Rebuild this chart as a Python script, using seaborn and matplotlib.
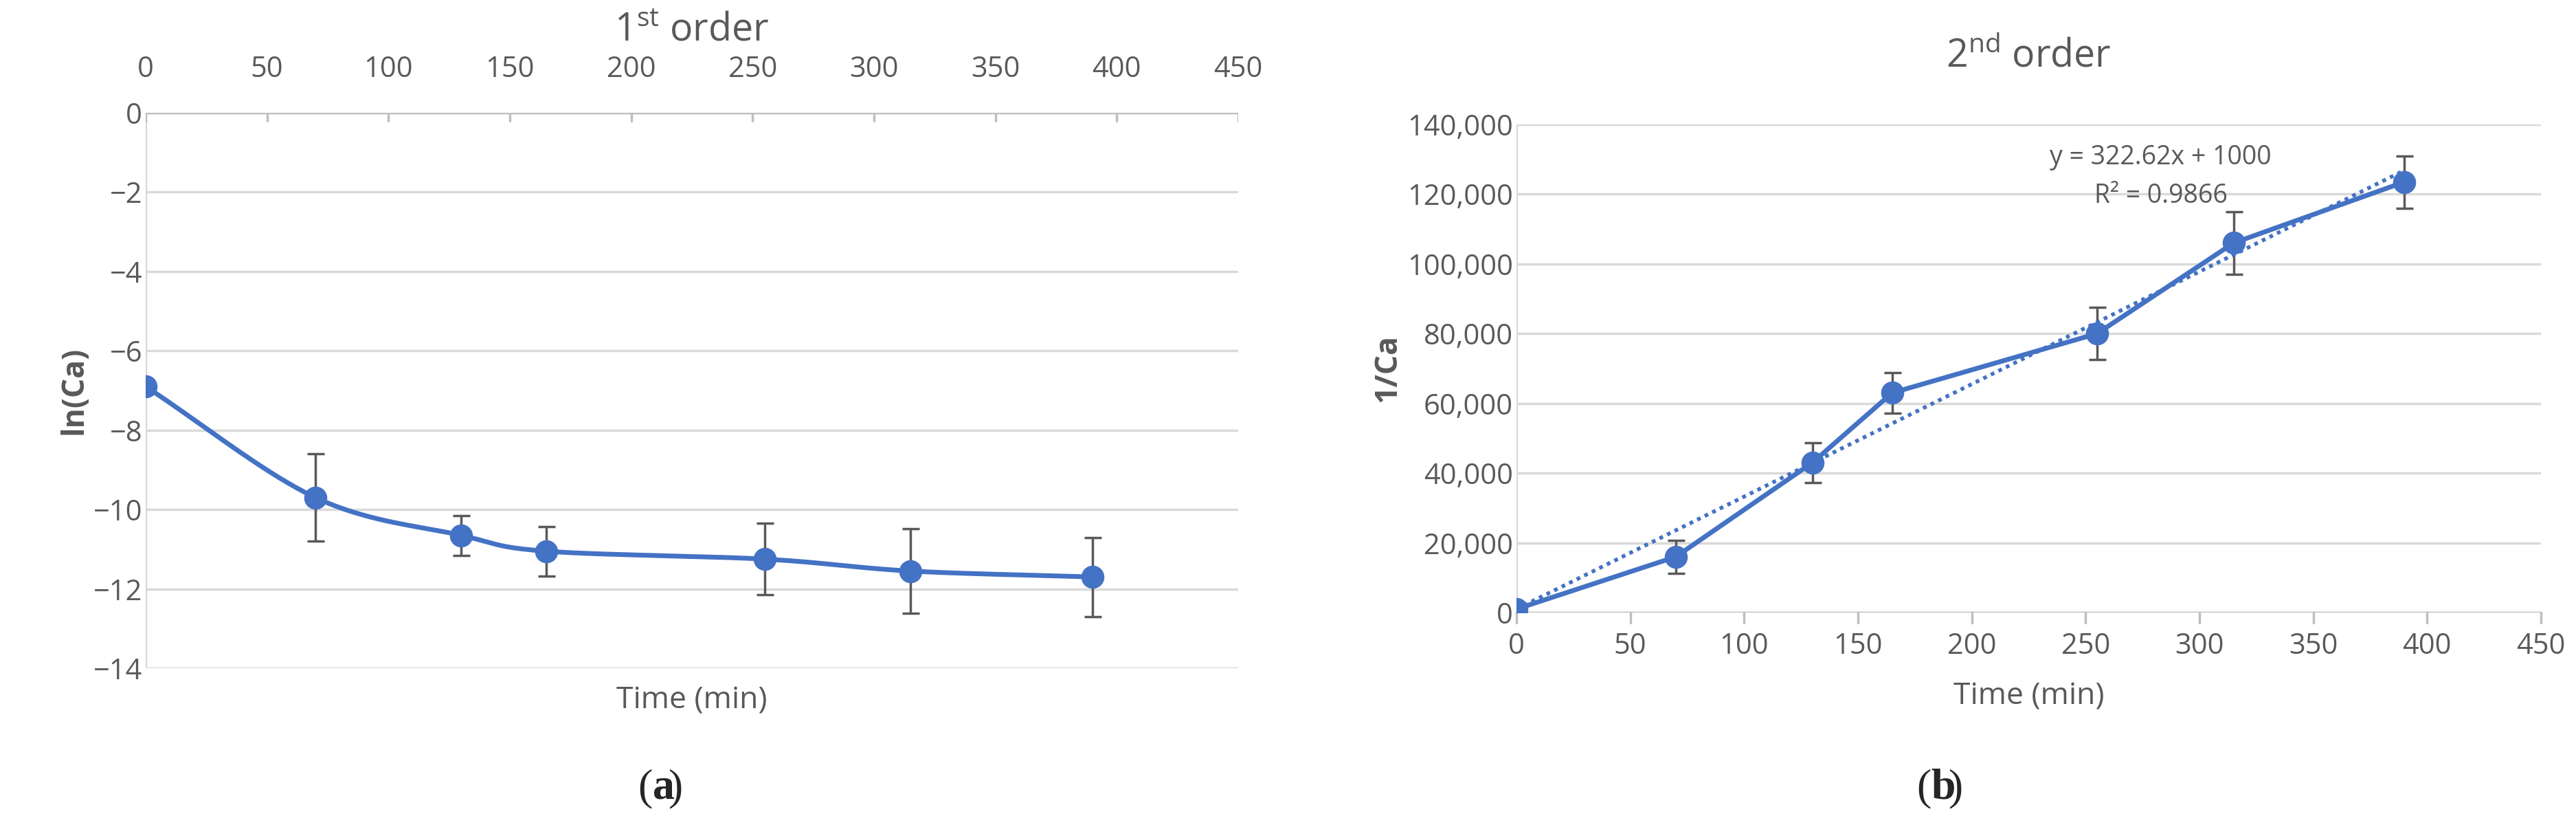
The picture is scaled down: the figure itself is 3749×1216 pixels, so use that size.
import matplotlib
matplotlib.use('Agg')
import matplotlib.pyplot as plt
import numpy as np
import pandas as pd
import seaborn as sns

# data
time_min = [0, 70, 130, 165, 255, 315, 390]
ln_ca = [-6.9, -9.7, -10.65, -11.05, -11.25, -11.55, -11.7]
ln_ca_err = [0.0, 1.1, 0.5, 0.62, 0.9, 1.07, 1.0]
inv_ca = [1000, 16000, 43000, 63000, 80000, 106000, 123500]
inv_ca_err = [0, 4800, 5800, 5800, 7500, 9000, 7500]
fit_slope = 322.62
fit_intercept = 1000

BLUE = '#4472C4'
GREY = '#595959'

sns.set_theme(style='white')
plt.rcParams['font.family'] = ['Open Sans', 'DejaVu Sans']

df = pd.DataFrame({'t': time_min, 'ln': ln_ca, 'ln_err': ln_ca_err,
                   'inv': inv_ca, 'inv_err': inv_ca_err})


def catmull_rom(x, y, n=40):
    """Smooth curve through the points, like Excel's smoothed line."""
    x = np.asarray(x, float)
    y = np.asarray(y, float)
    px = np.concatenate([[2 * x[0] - x[1]], x, [2 * x[-1] - x[-2]]])
    py = np.concatenate([[2 * y[0] - y[1]], y, [2 * y[-1] - y[-2]]])
    xs, ys = [], []
    for i in range(1, len(px) - 2):
        s = np.linspace(0, 1, n)
        for arr, out in ((px, xs), (py, ys)):
            p0, p1, p2, p3 = arr[i - 1:i + 3]
            out.append(0.5 * ((2 * p1) + (-p0 + p2) * s
                              + (2 * p0 - 5 * p1 + 4 * p2 - p3) * s ** 2
                              + (-p0 + 3 * p1 - 3 * p2 + p3) * s ** 3))
    return np.concatenate(xs), np.concatenate(ys)


def style_axes(ax):
    for side in ['top', 'right', 'left', 'bottom']:
        ax.spines[side].set_visible(False)
    ax.grid(axis='y', color='#D9D9D9', linewidth=2.5)
    ax.grid(axis='x', visible=False)
    ax.tick_params(labelsize=30, colors=GREY, length=0)
    ax.set_xlim(0, 450)
    ax.set_xticks(range(0, 451, 50))


fig = plt.figure(figsize=(37.49, 12.16), dpi=100)
ax1 = fig.add_axes([212 / 3749, 1 - 972 / 1216, 1590 / 3749, 808 / 1216])
ax2 = fig.add_axes([2207 / 3749, 1 - 891 / 1216, 1491 / 3749, 710 / 1216])

# (a) first order
style_axes(ax1)
sx, sy = catmull_rom(df['t'], df['ln'])
ax1.plot(sx, sy, color=BLUE, lw=5)
ax1.errorbar(df['t'], df['ln'], yerr=df['ln_err'], fmt='none',
             ecolor=GREY, elinewidth=2.5, capsize=9, capthick=2.5)
sns.scatterplot(data=df, x='t', y='ln', ax=ax1, color=BLUE, s=500,
                edgecolor=BLUE, zorder=5)
ax1.set_ylim(-14, 0)
ax1.set_yticks(range(-14, 1, 2))
ax1.axhline(0, color='#BFBFBF', lw=2.5)
ax1.axvline(0, ymin=0, ymax=1, color='#D9D9D9', lw=2.5)
for xt in range(0, 451, 50):
    ax1.plot([xt, xt], [0, -0.2], color='#BFBFBF', lw=2.5)
ax1.xaxis.tick_top()
ax1.tick_params(axis='x', pad=30)
ax1.xaxis.set_label_position('bottom')
ax1.set_xlabel('Time (min)', fontsize=32, color=GREY, labelpad=18)
ax1.set_ylabel('ln(Ca)', fontsize=32, color=GREY, fontweight='bold')
ax1.set_title('1$^{\\mathregular{st}}$ order', fontsize=40, color=GREY, pad=75)

# (b) second order
style_axes(ax2)
ax2.plot(df['t'], df['inv'], color=BLUE, lw=5)
ax2.errorbar(df['t'], df['inv'], yerr=df['inv_err'], fmt='none',
             ecolor=GREY, elinewidth=2.5, capsize=9, capthick=2.5)
fit_x = np.array([time_min[0], time_min[-1]])
ax2.plot(fit_x, fit_slope * fit_x + fit_intercept, color=BLUE, lw=4,
         linestyle=(0, (1, 1.2)))
sns.scatterplot(data=df, x='t', y='inv', ax=ax2, color=BLUE, s=500,
                edgecolor=BLUE, zorder=5)
ax2.set_ylim(0, 140000)
ax2.set_yticks(range(0, 140001, 20000))
ax2.yaxis.set_major_formatter(matplotlib.ticker.StrMethodFormatter('{x:,.0f}'))
ax2.axhline(0, color='#BFBFBF', lw=2.5)
ax2.axvline(0, color='#D9D9D9', lw=2.5)
for xt in range(0, 451, 50):
    ax2.plot([xt, xt], [0, -3000], color='#BFBFBF', lw=2.5, clip_on=False)
ax2.tick_params(axis='x', pad=20)
ax2.set_xlabel('Time (min)', fontsize=32, color=GREY, labelpad=22)
ax2.set_ylabel('1/Ca', fontsize=32, color=GREY, fontweight='bold')
ax2.set_title('2$^{\\mathregular{nd}}$ order', fontsize=40, color=GREY, pad=60)
ax2.text(283, 125000, 'y = 322.62x + 1000\nR² = 0.9866', fontsize=27,
         color=GREY, ha='center', va='center', linespacing=1.6)

# panel labels
fig.text(950 / 3749, 1 - 1147 / 1216, '(', fontsize=46, family='Liberation Serif',
         ha='right', va='center')
fig.text(950 / 3749, 1 - 1147 / 1216, 'a', fontsize=46, family='Liberation Serif',
         fontweight='bold', ha='left', va='center')
fig.text(973 / 3749, 1 - 1147 / 1216, ')', fontsize=46, family='Liberation Serif',
         ha='left', va='center')
fig.text(2810 / 3749, 1 - 1147 / 1216, '(', fontsize=46, family='Liberation Serif',
         ha='right', va='center')
fig.text(2810 / 3749, 1 - 1147 / 1216, 'b', fontsize=46, family='Liberation Serif',
         fontweight='bold', ha='left', va='center')
fig.text(2836 / 3749, 1 - 1147 / 1216, ')', fontsize=46, family='Liberation Serif',
         ha='left', va='center')

fig.savefig('out.png', dpi=100, facecolor='white')
